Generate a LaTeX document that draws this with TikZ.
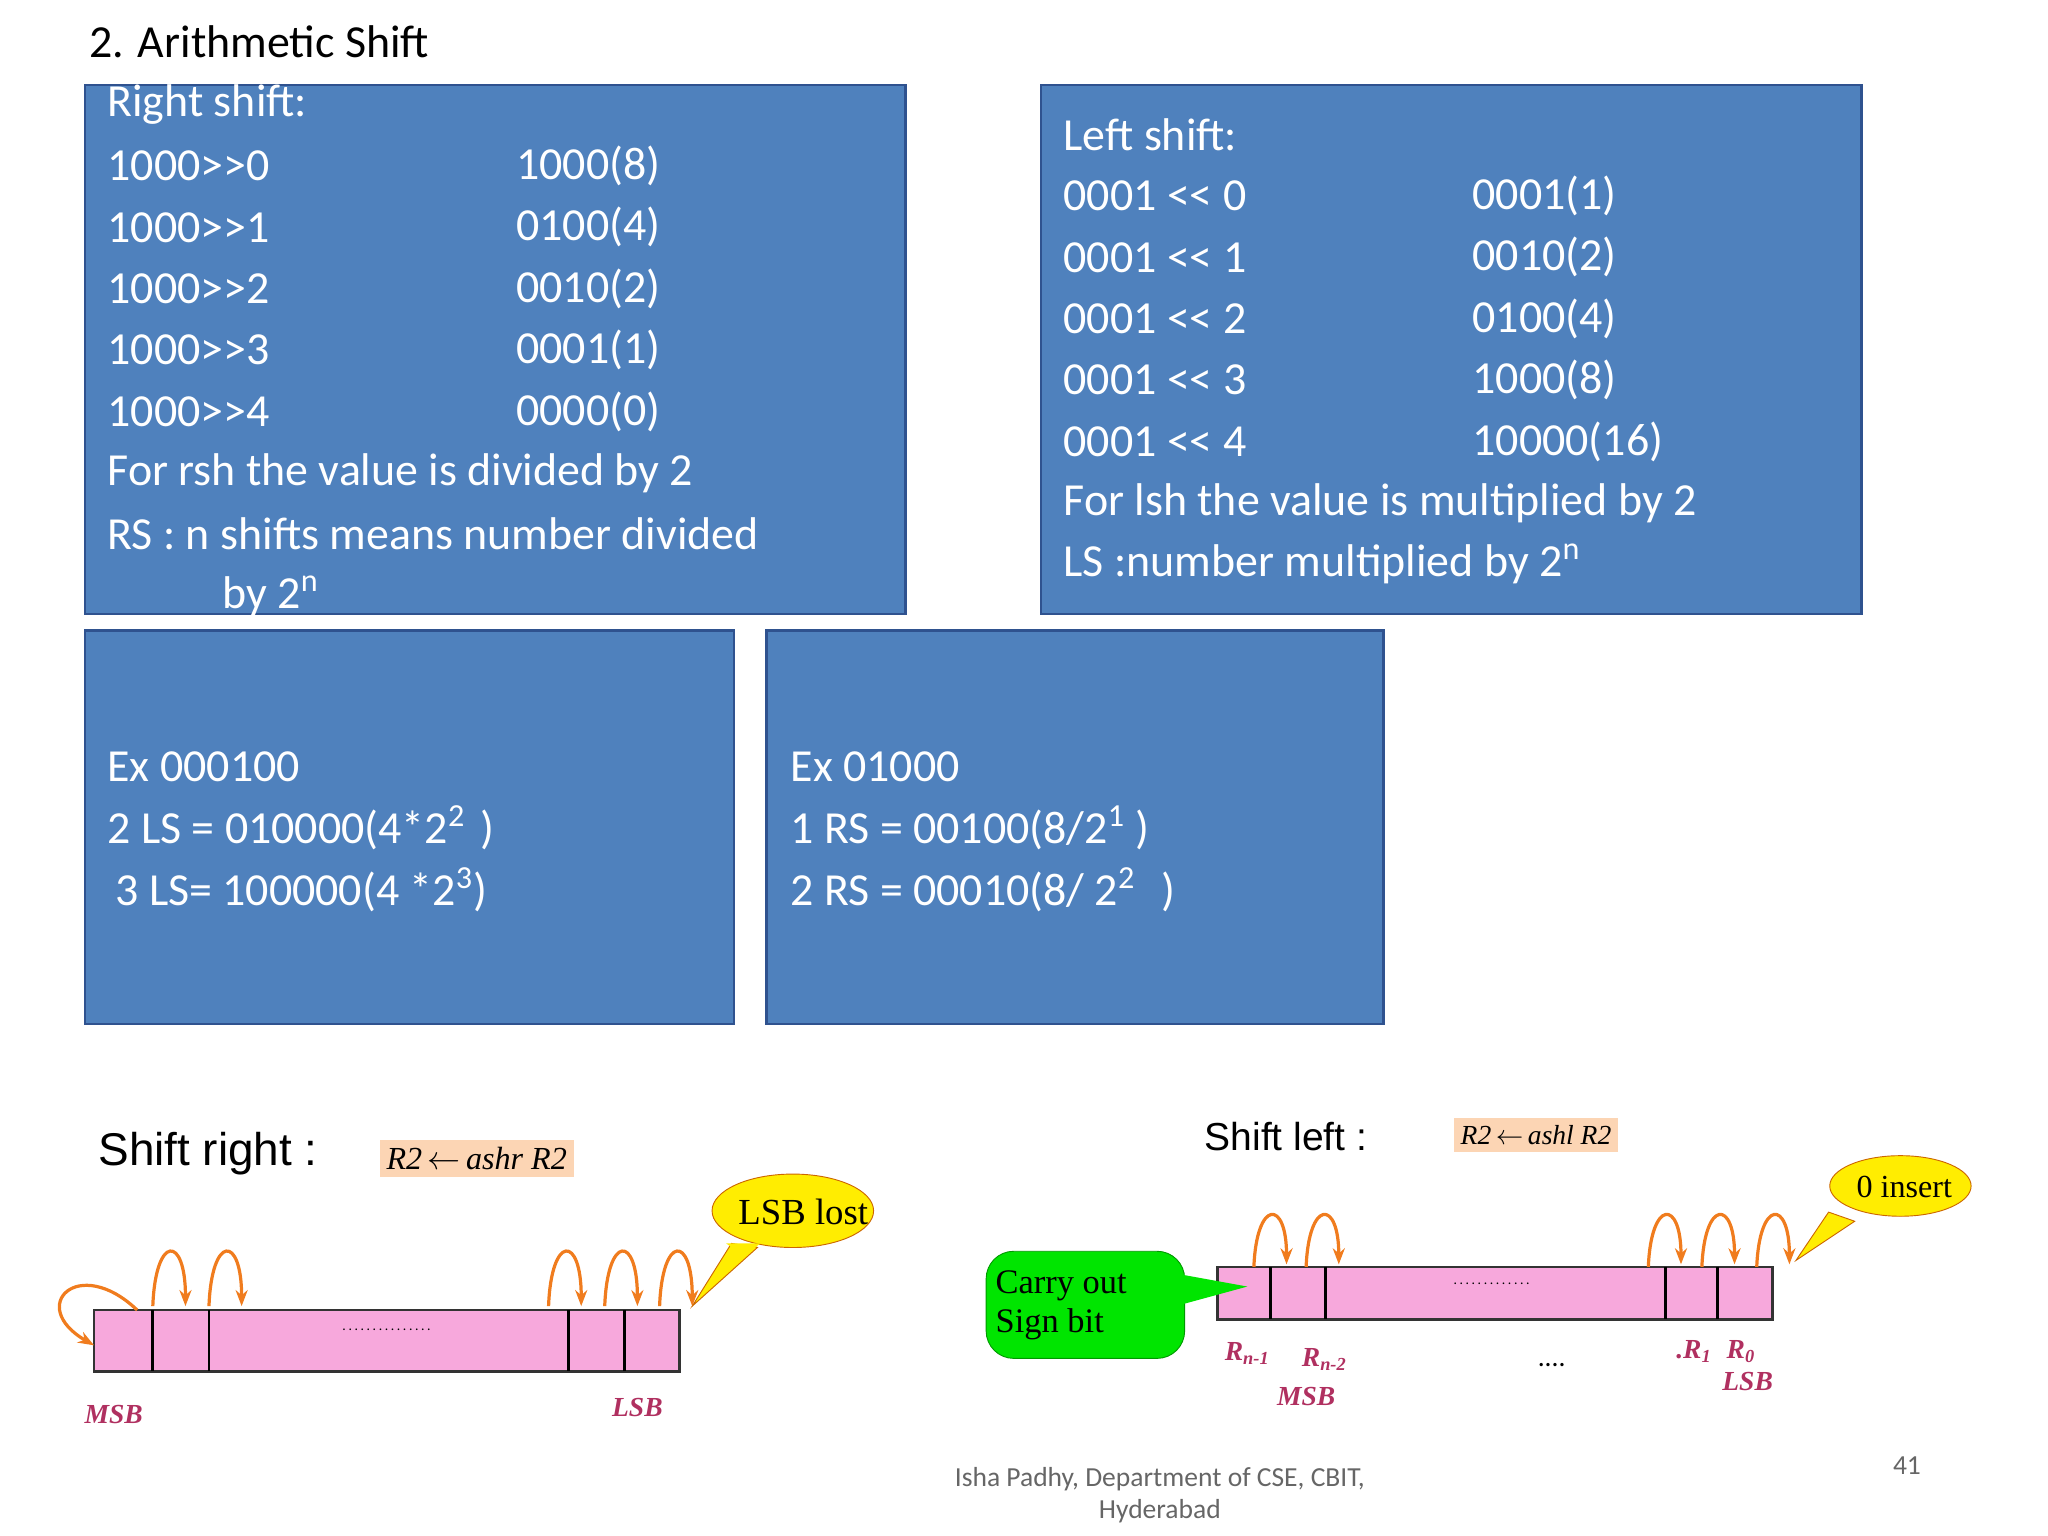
\documentclass[tikz,border=0pt]{standalone}
\usepackage{fontspec}
\setmainfont{Carlito}
\newfontfamily\arialf{Liberation Sans}
\newfontfamily\timesf{Liberation Serif}
\usetikzlibrary{arrows.meta,shapes.geometric}
\definecolor{boxblue}{HTML}{4F81BD}
\definecolor{boxedge}{HTML}{2F528F}
\definecolor{regpink}{HTML}{F7A8DC}
\definecolor{arrorange}{HTML}{F07C1E}
\definecolor{labpeach}{HTML}{FCD5B4}
\definecolor{lblred}{HTML}{B03060}
\begin{document}
\begin{tikzpicture}[x=0.02cm,y=-0.02cm,
  bbox/.style={fill=boxblue,draw=boxedge,line width=1.2pt},
  t/.style={anchor=west,text=white,font=\fontsize{20}{24}\selectfont,inner sep=0pt},
  reg/.style={fill=regpink,draw=black!80,line width=1.2pt},
  hop/.style={draw=arrorange,line width=1.4pt,-{Stealth[length=7pt]}},
  lab/.style={font=\timesf\bfseries\itshape\fontsize{12}{14}\selectfont,text=lblred},
  eq/.style={fill=labpeach,font=\timesf\itshape\fontsize{14}{16}\selectfont,inner sep=3pt}]
\useasboundingbox (0,0) rectangle (1568,1176);
\node[anchor=west,font=\fontsize{20}{24}\selectfont,inner sep=0pt] (title) at (68,32) {2. Arithmetic Shift};
\draw[bbox] (65,65) rectangle (693,470);
\draw[bbox] (797,65) rectangle (1425,470);
\draw[bbox] (65,483) rectangle (562,784);
\draw[bbox] (587,483) rectangle (1059,784);
% right shift
\node[t] (r0) at (82,80) {Right shift:};
\foreach \i/\a/\b in {0/1000(8),1/0100(4),2/0010(2),3/0001(1),4/0000(0)}{
  \node[t] (ra\i) at (82,127+47*\i) {1000>{}>\i};
  \node[t] (rb\i) at (395,127+47*\i) {\a};}
\node[t] (r6) at (82,362) {For rsh the value is divided by 2};
\node[t] (r7) at (82,409) {RS : n shifts means number divided};
\node[t] (r8) at (170,456) {by 2\textsuperscript{n}};
% left shift
\node[t] (l0) at (814,103) {Left shift:};
\foreach \i/\b in {0/0001(1),1/0010(2),2/0100(4),3/1000(8),4/10000(16)}{
  \node[t] (la\i) at (814,150+47*\i) {0001 <{}< \i};
  \node[t] (lb\i) at (1127,150+47*\i) {\b};}
\node[t] (l6) at (814,385) {For lsh the value is multiplied by 2};
\node[t] (l7) at (814,432) {LS :number multiplied by 2\textsuperscript{n}};
% examples
\node[t] (e1) at (82,587) {Ex 000100};
\node[t] (e2) at (82,634) {2 LS = 010000(4*2\textsuperscript{2}\,\,)};
\node[t] (e3) at (88,681) {3 LS= 100000(4 *2\textsuperscript{3})};
\node[t] (f1) at (605,587) {Ex 01000};
\node[t] (f2) at (605,634) {1 RS = 00100(8/2\textsuperscript{1} )};
\node[t] (f3) at (605,681) {2 RS = 00010(8/ 2\textsuperscript{2}\,\, )};
% shift right diagram
\node[anchor=west,font=\arialf\fontsize{20}{24}\selectfont,inner sep=0pt] (sr) at (75,883) {Shift right :};
\node[eq,minimum width=178\pgflinewidth] (sreq) at (365,887) {R2\,$\leftarrow$\,ashr R2};
\draw[reg] (72,1003) rectangle (520,1050);
\foreach \x in {117,160,435,478}{\draw[line width=1.2pt] (\x,1003) -- (\x,1050);}
\node[font=\fontsize{6}{6}\selectfont] (dots1) at (296,1018) {\dotfill\hbox to 40pt{\dotfill}};
\draw[hop] (105,1003) .. controls (60,960) and (20,1000) .. (72,1030);
\foreach \x in {117,160,420,463,505}{\draw[hop] (\x,1000) .. controls (\x+2,945) and (\x+25,945) .. (\x+25,1000);}
\node[lab] (msb1) at (87,1083) {MSB};
\node[lab] (lsb1) at (488,1078) {LSB};
\fill[yellow!95!orange,draw=orange!80!black] (580,955) -- (530,1000) -- (560,952) -- cycle;
\node[ellipse,fill=yellow!95!orange,draw=orange!80!black,minimum width=176\pgflinewidth,inner sep=0pt,minimum height=80\pgflinewidth] (lost) at (607,927) {};
\fill[yellow!95!orange] (582,952) -- (556,952) -- (570,962)--cycle;
\node[font=\timesf\fontsize{16}{18}\selectfont] at (615,928) {LSB lost};
% shift left diagram
\node[anchor=west,font=\arialf\fontsize{17}{20}\selectfont,inner sep=0pt] (sl) at (922,870) {Shift left :};
\node[eq,font=\timesf\itshape\fontsize{12}{14}\selectfont] (sleq) at (1176,869) {R2\,$\leftarrow$\,ashl R2};
\draw[reg] (932,970) rectangle (1357,1010);
\foreach \x in {973,1015,1275,1315}{\draw[line width=1.2pt] (\x,970) -- (\x,1010);}
\node[font=\fontsize{6}{6}\selectfont] (dots2) at (1142,983) {\hbox to 35pt{\dotfill}};
\foreach \x in {960,1000,1262,1303,1345}{\draw[hop] (\x,970) .. controls (\x+2,918) and (\x+25,918) .. (\x+25,968);}
\draw[fill=green!90!black,draw=green!60!black,rounded corners=12pt] (755,958) rectangle (907,1040);
\fill[green!90!black] (900,975) -- (955,985) -- (900,1000) -- cycle;
\node[align=left,font=\timesf\fontsize{15}{17}\selectfont,anchor=west,inner sep=0pt] (carry) at (762,999) {Carry out\\Sign bit};
\fill[yellow!95!orange,draw=orange!80!black] (1400,928) -- (1375,965) -- (1420,935) -- cycle;
\node[ellipse,fill=yellow!95!orange,draw=orange!80!black,minimum width=154\pgflinewidth,inner sep=0pt,minimum height=66\pgflinewidth] (ins) at (1455,908) {};
\node[font=\timesf\fontsize{14}{16}\selectfont] at (1458,909) {0 insert};
\node[lab] (rn1) at (955,1036) {R\textsubscript{n-1}};
\node[lab] (rn2) at (1014,1041) {R\textsubscript{n-2}};
\node[lab] (msb2) at (1000,1069) {MSB};
\node[font=\fontsize{12}{12}\selectfont] (dd) at (1188,1045) {....};
\node[lab] (r1) at (1297,1035) {.R\textsubscript{1}};
\node[lab] (r0b) at (1333,1035) {R\textsubscript{0}};
\node[lab] (lsb2) at (1338,1058) {LSB};
% footer
\node[font=\fontsize{12}{14}\selectfont,text=black!60,align=center] (foot) at (888,1145) {Isha Padhy, Department of CSE, CBIT,\\Hyderabad};
\node[font=\fontsize{12}{14}\selectfont,text=black!60] (pg) at (1460,1122) {41};
\end{tikzpicture}
\end{document}
